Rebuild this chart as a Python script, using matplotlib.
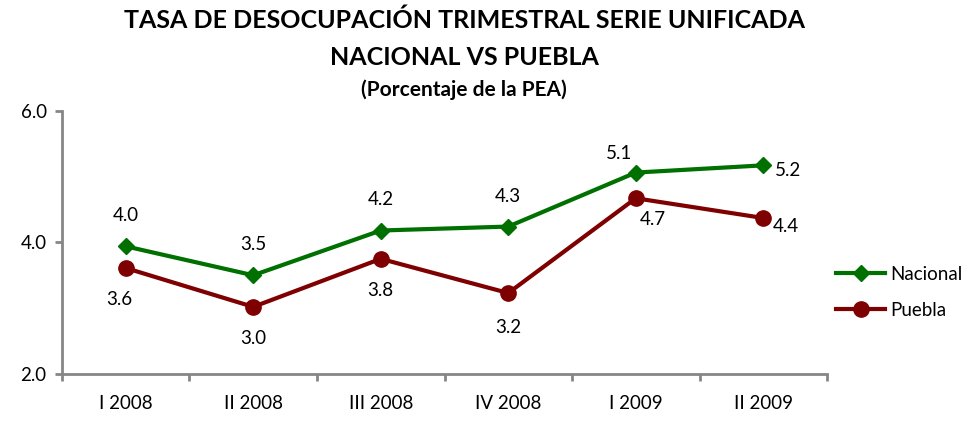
import matplotlib
matplotlib.use("Agg")
import matplotlib.pyplot as plt

plt.rcParams['font.family'] = ['Lato', 'DejaVu Sans']

# data
quarters = ["I 2008", "II 2008", "III 2008", "IV 2008", "I 2009", "II 2009"]
nacional = [3.94, 3.50, 4.18, 4.24, 5.06, 5.17]
puebla = [3.61, 3.02, 3.75, 3.23, 4.67, 4.37]
nacional_labels = ["4.0", "3.5", "4.2", "4.3", "5.1", "5.2"]
puebla_labels = ["3.6", "3.0", "3.8", "3.2", "4.7", "4.4"]

green = "#007000"
red = "#7f0000"
grey = "#868686"

fig = plt.figure(figsize=(9.61, 4.23), dpi=100)
ax = fig.add_axes([0.0645, 0.1158, 0.7961, 0.6225])

x = list(range(len(quarters)))
ax.plot(x, nacional, color=green, lw=3, marker="D", ms=8, label="Nacional")
ax.plot(x, puebla, color=red, lw=3, marker="o", ms=11, label="Puebla")

# label offsets in points (dx, dy)
nac_off = [(0, 22), (0, 22), (0, 22), (0, 22), (-12, 14), (18, -4)]
pue_off = [(-5, -23), (0, -23), (0, -23), (0, -25), (12, -15), (16, -6)]
for i in x:
    ax.annotate(nacional_labels[i], (i, nacional[i]), xytext=nac_off[i],
                textcoords="offset points", ha="center", va="center", fontsize=13.5)
    ax.annotate(puebla_labels[i], (i, puebla[i]), xytext=pue_off[i],
                textcoords="offset points", ha="center", va="center", fontsize=13.5)

ax.set_xlim(-0.5, 5.5)
ax.set_ylim(2.0, 6.0)
ax.set_yticks([2.0, 4.0, 6.0])
ax.set_yticklabels(["2.0", "4.0", "6.0"], fontsize=13.5)
ax.set_xticks(x)
ax.set_xticklabels(quarters, fontsize=13.5)
ax.set_xticks([i - 0.5 for i in range(7)], minor=True)
ax.tick_params(axis="x", which="major", length=0, pad=15)
ax.tick_params(axis="x", which="minor", length=5, width=2, color=grey)
ax.tick_params(axis="y", length=5, width=2, color=grey, pad=6)

for side in ["top", "right"]:
    ax.spines[side].set_visible(False)
for side in ["left", "bottom"]:
    ax.spines[side].set_color(grey)
    ax.spines[side].set_linewidth(2)

leg = ax.legend(loc="center left", bbox_to_anchor=(0.99, 0.31), frameon=False,
                fontsize=13.5, handlelength=2.6, handletextpad=0.3, labelspacing=1.0)

fig.text(0.483, 0.953, "TASA DE DESOCUPACIÓN TRIMESTRAL SERIE UNIFICADA",
         ha="center", va="center", fontsize=18, fontweight="bold")
fig.text(0.483, 0.865, "NACIONAL VS PUEBLA",
         ha="center", va="center", fontsize=18, fontweight="bold")
fig.text(0.483, 0.787, "(Porcentaje de la PEA)",
         ha="center", va="center", fontsize=15, fontweight="bold")

fig.savefig("out.png", dpi=100)
